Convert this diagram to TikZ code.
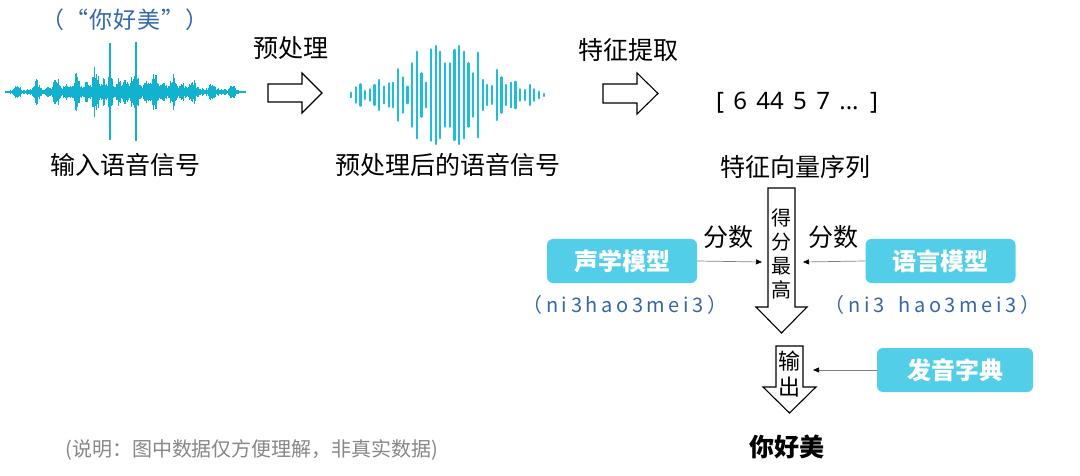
\documentclass[tikz,border=0pt]{standalone}
\usepackage{fontspec}
\setmainfont{Noto Sans CJK SC}
\newfontfamily\latinf[WordSpace=1.5]{Noto Sans}
\newfontfamily\pyfont[LetterSpace=18]{Noto Sans CJK SC}
\newfontfamily\titlefont[LetterSpace=4]{Noto Sans CJK SC}
\usetikzlibrary{arrows.meta}
\definecolor{wavecol}{RGB}{16,178,208}
\definecolor{barcol}{RGB}{30,190,218}
\definecolor{boxcol}{RGB}{82,206,232}
\definecolor{pyblue}{RGB}{52,102,172}
\definecolor{notegray}{RGB}{135,135,135}
\begin{document}
\begin{tikzpicture}[x=1pt,y=-1pt,
  lbl/.style={font=\fontsize{25}{28}\selectfont, inner sep=0pt},
  model/.style={fill=boxcol, rounded corners=6pt, minimum width=150pt, minimum height=44pt, text=white, font=\fontsize{24}{27}\selectfont\bfseries, inner sep=0pt},
  blockarrow/.style={draw=black, line width=1.1pt, fill=white, line join=miter},
  thinarrow/.style={draw=gray, line width=0.7pt, -{Triangle[length=6pt,width=5pt,black]}},
  wave/.style={draw=wavecol, line width=0.8pt},
  bar/.style={draw=barcol, line width=2.2pt, line cap=round},
  py/.style={text=pyblue, font=\pyfont\fontsize{20}{24}\selectfont, inner sep=0pt},
  vtext/.style={align=center, inner sep=0pt}]
\useasboundingbox (0,0) rectangle (1080,476);
\fill[white] (0,0) rectangle (1080,476);

% title
\node[text=pyblue, font=\titlefont\fontsize{23}{26}\selectfont, inner sep=0pt] (title) at (125,20) {（“你好美”）};

% waveform 1 (raw speech)
\pgfmathsetseed{7}
\foreach \i in {0,...,240}{
  \pgfmathsetmacro{\xx}{5+\i}
  \pgfmathsetmacro{\aa}{(0.35+0.65*rnd)*(6*max(0,1-((\xx-125)/118)^2)+1.5)}
  \draw[wave] (\xx,92-\aa) -- (\xx,92+\aa);
}
\foreach \c/\h in {17/9, 36/13, 56/16, 66/9, 76/21, 86/11, 95/26, 103/15, 118/15, 125/14, 131/16, 146/13, 154/25, 163/11, 173/21, 182/10, 192/15, 212/13, 232/9}{
  \foreach \d in {-4,...,4}{
    \pgfmathsetmacro{\aa}{\h*(0.45+0.55*rnd)*(1-(abs(\d)/5)^2)}
    \draw[wave] (\c+\d,92-\aa) -- (\c+\d,92+\aa);
  }
}
\foreach \c/\h in {110/49, 136/50}{
  \draw[wave, line width=1.1pt] (\c,92-\h) -- (\c,92+\h-1);
  \foreach \d in {-3,...,3}{
    \pgfmathsetmacro{\aa}{26*(0.45+0.55*rnd)*(1-(abs(\d)/4)^2)}
    \draw[wave] (\c+\d,92-\aa) -- (\c+\d,92+\aa);
  }
}
\node[lbl] (in) at (125,165) {输入语音信号};

% arrow 1
\node[lbl] (pre) at (291,48) {预处理};
\draw[blockarrow] (268,84) -- (302,84) -- (302,73) -- (322,93) -- (302,113) -- (302,102) -- (268,102) -- cycle;

% waveform 2 (preprocessed)
\foreach \h [count=\k from 0] in {2.3,7.7,10.7,4,5.7,10,15,8.3,11.7,12.3,25.7,17.7,8.3,31.7,43.3,21.7,12.3,45.7,49,43.3,31.7,31.7,45,49,43.3,31.7,21.7,42.3,15,10,9,25,17.7,10,12.3,13.3,5.7,5,10,5.7,3.3,1}{
  \pgfmathsetmacro{\xx}{351+4.7*\k}
  \draw[bar] (\xx,95-\h) -- (\xx,95+\h);
}
\node[lbl] (pp) at (448,165) {预处理后的语音信号};

% arrow 2
\node[lbl] (fe) at (628,50) {特征提取};
\draw[blockarrow] (603,84) -- (637,84) -- (637,73) -- (658,93.5) -- (637,114) -- (637,103) -- (603,103) -- cycle;

\node[font=\latinf\fontsize{24}{27}\selectfont, inner sep=0pt] (vec) at (797,103) {[ 6 44 5 7 ... ]};
\node[lbl] (vecl) at (795,167) {特征向量序列};

% decision arrow
\draw[blockarrow] (768,188) -- (795,188) -- (795,307) -- (807,307) -- (781.5,333) -- (756,307) -- (768,307) -- cycle;
\node[vtext, font=\fontsize{20}{24}\selectfont] (best) at (781.5,254) {得\\分\\最\\高};

\node[model] (am) at (622,261) {声学模型};
\node[model] (lm) at (940.5,261) {语言模型};
\coordinate (t1) at (762,262);
\coordinate (t2) at (803,262);
\draw[thinarrow] (am.east) -- (t1);
\draw[thinarrow] (lm.west) -- (t2);
\node[lbl] (s1) at (728,237) {分数};
\node[lbl] (s2) at (833,237) {分数};
\node[py] (py1) at (625,305) {（ni3hao3mei3）};
\node[py] (py2) at (932.5,305) {（ni3\hspace{6pt} hao3mei3）};

% output arrow
\draw[blockarrow] (776,346) -- (803,346) -- (803,387) -- (816,387) -- (789.5,413) -- (763,387) -- (776,387) -- cycle;
\node[vtext, font=\fontsize{22}{26}\selectfont] (outl) at (789.5,374) {输\\出};
\node[model, minimum width=156pt] (dict) at (955,370) {发音字典};
\coordinate (t3) at (813,370);
\draw[thinarrow] (dict.west) -- (t3);

\node[font=\fontsize{25}{28}\selectfont\bfseries, inner sep=0pt] (res) at (787,447) {你好美};
\node[text=notegray, font=\fontsize{20}{23}\selectfont, inner sep=0pt] (note) at (252,450) {(说明：图中数据仅方便理解，非真实数据)};
\end{tikzpicture}
\end{document}
